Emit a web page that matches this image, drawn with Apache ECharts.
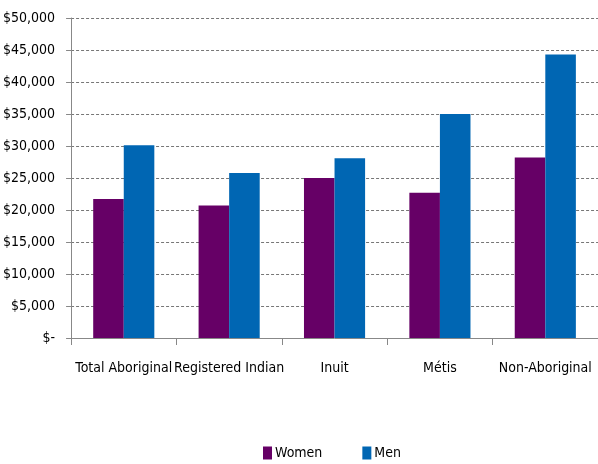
<!DOCTYPE html>
<html><head><meta charset="utf-8">
<script src="https://cdn.jsdelivr.net/npm/echarts@6/dist/echarts.min.js"></script>
<style>html,body{margin:0;padding:0;background:#fff}#c{width:598px;height:464px}</style>
</head><body><div id="c"></div>
<script>
const categories = ["Total Aboriginal", "Registered Indian", "Inuit", "Métis", "Non-Aboriginal"];
const women = [21700, 20700, 25000, 22700, 28200];
const men = [30100, 25800, 28100, 35000, 44300];
const seriesNames = ["Women", "Men"];
const yTicks = {min: 0, max: 50000, interval: 5000};

const font = "'DejaVu Sans Condensed','Liberation Sans Narrow',Arial,sans-serif";
const chart = echarts.init(document.getElementById('c'));
chart.setOption({
  animation: false,
  textStyle: {fontFamily: font},
  grid: {left: 69, top: 18, width: 534, height: 320, containLabel: false},
  legend: {
    top: 441, left: 258, itemWidth: 9, itemHeight: 13, itemGap: 40,
    icon: 'rect',
    textStyle: {fontFamily: font, fontSize: 14, color: '#000', padding: [0, 0, 0, -2]},
    data: seriesNames
  },
  xAxis: {
    type: 'category', data: categories,
    axisLine: {lineStyle: {color: '#888'}},
    axisTick: {show: true, length: 7, lineStyle: {color: '#888'}},
    axisLabel: {fontFamily: font, fontSize: 14, color: '#000', margin: 23, interval: 0}
  },
  yAxis: {
    type: 'value', min: yTicks.min, max: yTicks.max, interval: yTicks.interval,
    axisLine: {show: true, lineStyle: {color: '#888'}},
    axisTick: {show: true, length: 5, lineStyle: {color: '#888'}},
    splitLine: {lineStyle: {color: '#777', type: [3, 2], width: 1}},
    axisLabel: {
      fontFamily: font, fontSize: 14, color: '#000', margin: 16,
      formatter: v => v === 0 ? '$-' : '$' + v.toLocaleString('en-US')
    }
  },
  series: [
    {name: seriesNames[0], type: 'bar', data: women, barGap: '0%', barCategoryGap: '42%',
     itemStyle: {color: '#660066'}},
    {name: seriesNames[1], type: 'bar', data: men, barGap: '0%', barCategoryGap: '42%',
     itemStyle: {color: '#0066B3'}}
  ]
});
</script></body></html>
